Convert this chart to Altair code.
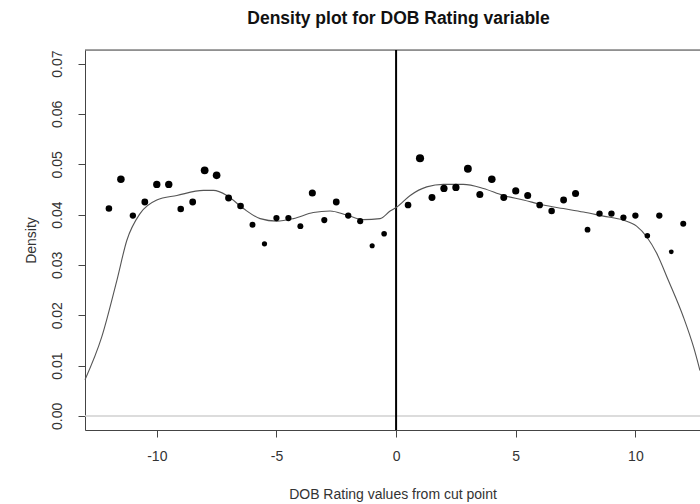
import altair as alt
import pandas as pd

# Observed points (binned DOB rating vs. density)
pt_x = [-12, -11.5, -11, -10.5, -10, -9.5, -9, -8.5, -8, -7.5, -7, -6.5, -6, -5.5,
        -5, -4.5, -4, -3.5, -3, -2.5, -2, -1.5, -1, -0.5,
        0.5, 1, 1.5, 2, 2.5, 3, 3.5, 4, 4.5, 5, 5.5, 6, 6.5, 7, 7.5, 8, 8.5, 9,
        9.5, 10, 10.5, 11, 11.5, 12]
pt_y = [0.0412, 0.0470, 0.0398, 0.0425, 0.0460, 0.0460, 0.0411, 0.0425, 0.0488, 0.0478,
        0.0433, 0.0417, 0.0380, 0.0342, 0.0393, 0.0393, 0.0377, 0.0443, 0.0389, 0.0425,
        0.0398, 0.0387, 0.0338, 0.0362,
        0.0419, 0.0512, 0.0434, 0.0452, 0.0454, 0.0491, 0.0440, 0.0470, 0.0434, 0.0447,
        0.0438, 0.0419, 0.0407, 0.0429, 0.0442, 0.0370, 0.0402, 0.0402, 0.0394, 0.0398,
        0.0358, 0.0398, 0.0326, 0.0382]

# Kernel density curve
cv_x = [-13.0, -12.3, -11.67, -11.25, -10.7, -10.0, -9.16, -8.05, -7.63, -7.07, -6.38,
        -5.68, -4.99, -4.29, -3.46, -2.76, -2.06, -1.37, -0.67, -0.25, 0.03, 0.59, 1.28,
        1.98, 2.81, 3.65, 4.48, 5.32, 6.15, 6.99, 7.83, 8.66, 9.5, 10.05, 10.47, 10.89,
        11.38, 12.01, 12.43, 12.7]
cv_y = [0.0072, 0.0157, 0.0269, 0.0349, 0.0402, 0.0429, 0.0438, 0.0448, 0.0448, 0.0438,
        0.0412, 0.0392, 0.0387, 0.0392, 0.0404, 0.0407, 0.0399, 0.0390, 0.0392, 0.0407,
        0.0415, 0.0438, 0.0455, 0.0460, 0.0460, 0.0452, 0.0438, 0.0429, 0.0419, 0.0412,
        0.0405, 0.0397, 0.0389, 0.0377, 0.0356, 0.0323, 0.0269, 0.0196, 0.0137, 0.0090]

x_ticks = [-10, -5, 0, 5, 10]
y_ticks = [0.0, 0.01, 0.02, 0.03, 0.04, 0.05, 0.06, 0.07]

X_DOM = [-13.0, 12.70]
Y_DOM = [-0.0028, 0.0727]

pts = pd.DataFrame({"x": pt_x, "y": pt_y})
cv = pd.DataFrame({"x": cv_x, "y": cv_y})

FONT = "Liberation Sans"
AX = "#444444"
TXT = "#333333"

xscale = alt.Scale(domain=X_DOM, nice=False, zero=False)
yscale = alt.Scale(domain=Y_DOM, nice=False, zero=False)

xaxis = alt.Axis(values=x_ticks, title="DOB Rating values from cut point", grid=False,
                 labelExpr="toString(datum.value)",
                 domain=True, domainColor=AX, tickColor=AX, tickSize=7, labelFont=FONT,
                 labelFontSize=14, labelColor=TXT, labelPadding=12, titleFont=FONT,
                 titleFontSize=14, titleFontWeight="normal", titleColor=TXT,
                 titlePadding=24, labelFlush=False)
yaxis = alt.Axis(values=y_ticks, format=".2f", title="Density", grid=False, domain=True,
                 domainColor=AX, tickColor=AX, tickSize=7, labelFont=FONT,
                 labelFontSize=14, labelColor=TXT, labelAngle=270, labelAlign="center",
                 labelBaseline="bottom", labelPadding=14, titleFont=FONT,
                 titleFontSize=14, titleFontWeight="normal", titleColor=TXT,
                 titlePadding=12, labelFlush=False)

hline = alt.Chart(pd.DataFrame({"y": [0.0]})).mark_rule(
    color="#d0d0d0", strokeWidth=1.5).encode(y=alt.Y("y:Q", scale=yscale, axis=yaxis))

topline = alt.Chart(pd.DataFrame({"y": [Y_DOM[1]]})).mark_rule(
    color=AX, strokeWidth=1).encode(y=alt.Y("y:Q", scale=yscale))

vline = alt.Chart(pd.DataFrame({"x": [0.0]})).mark_rule(
    color="#000000", strokeWidth=2).encode(x=alt.X("x:Q", scale=xscale, axis=xaxis))

curve = alt.Chart(cv).mark_line(color="#555555", strokeWidth=1.1,
                                interpolate="monotone").encode(
    x=alt.X("x:Q", scale=xscale), y=alt.Y("y:Q", scale=yscale))

points = alt.Chart(pts).mark_circle(color="#000000", opacity=1).encode(
    x=alt.X("x:Q", scale=xscale), y=alt.Y("y:Q", scale=yscale),
    size=alt.Size("y:Q", scale=alt.Scale(domain=[0.032, 0.052], range=[22, 68]),
                  legend=None))

chart = alt.layer(hline, topline, vline, curve, points).properties(
    width=615, height=380,
    title=alt.TitleParams("Density plot for DOB Rating variable", font=FONT,
                          fontSize=17.5, fontWeight="bold", color="#111111",
                          anchor="middle", offset=22, dx=6),
    autosize=alt.AutoSizeParams(type="none"),
    padding={"left": 85, "top": 50, "right": 0, "bottom": 74},
).configure_view(stroke=None).configure(background="white")

chart.save("out.html", embed_options={"renderer": "svg", "actions": False})
